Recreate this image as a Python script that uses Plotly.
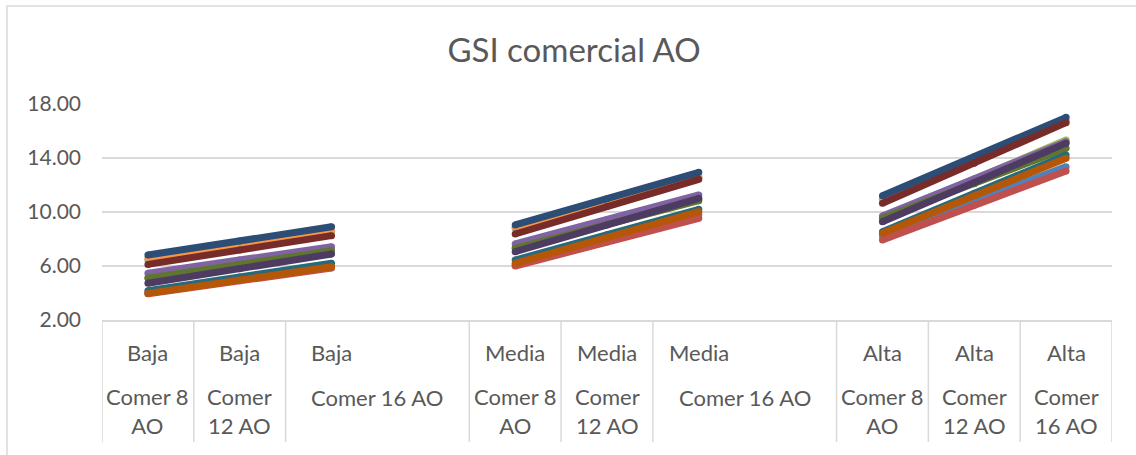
import plotly.graph_objects as go

# Category axis (11 slots; slots 3 and 7 are blank gaps)
x_pos = list(range(11))
inner_pos = [0, 1, 2, 4, 5, 6, 8, 9, 10]
inner_text = ["Baja", "Baja", "Baja", "Media", "Media", "Media", "Alta", "Alta", "Alta"]
outer_pos = [0, 1, 2.5, 4, 5, 6.5, 8, 9, 10]
outer_text = ["Comer 8<br>AO", "Comer<br>12 AO", "Comer 16 AO",
              "Comer 8<br>AO", "Comer<br>12 AO", "Comer 16 AO",
              "Comer 8<br>AO", "Comer<br>12 AO", "Comer<br>16 AO"]
separators = [-0.5, 0.5, 1.5, 3.5, 4.5, 5.5, 7.5, 8.5, 9.5, 10.5]

N = None
s01 = [4.00, 4.98, 5.95, N, 6.10, 7.95, 9.78, N, 8.22, 10.80, 13.36]
s02 = [3.95, 4.90, 5.85, N, 6.00, 7.78, 9.53, N, 7.93, 10.50, 13.04]
s03 = [5.15, 6.18, 7.20, N, 7.35, 9.12, 10.90, N, 9.55, 12.45, 15.33]
s04 = [5.46, 6.45, 7.43, N, 7.63, 9.45, 11.26, N, 9.70, 12.45, 15.21]
s05 = [6.45, 7.50, 8.55, N, 8.80, 10.68, 12.55, N, 10.95, 13.85, 16.75]
s06 = [6.57, 7.60, 8.62, N, 8.86, 10.75, 12.62, N, 11.01, 13.90, 16.80]
s07 = [6.81, 7.86, 8.91, N, 9.04, 10.99, 12.94, N, 11.21, 14.10, 17.01]
s08 = [6.12, 7.18, 8.25, N, 8.37, 10.40, 12.42, N, 10.64, 13.62, 16.62]
s09 = [5.09, 6.11, 7.13, N, 7.31, 9.08, 10.84, N, 9.53, 12.10, 14.72]
s10 = [4.72, 5.80, 6.89, N, 7.06, 9.03, 11.01, N, 9.28, 12.18, 15.10]
s11 = [4.17, 5.18, 6.20, N, 6.44, 8.32, 10.20, N, 8.54, 11.38, 14.22]
s12 = [3.97, 4.96, 5.95, N, 6.20, 8.10, 10.02, N, 8.42, 11.20, 13.98]

series = [s01, s02, s03, s04, s05, s06, s07, s08, s09, s10, s11, s12]
colors = ["#4F81BD", "#C0504D", "#9BBB59", "#8064A2", "#4BACC6", "#F79646",
          "#2C4D75", "#772C2A", "#5F7530", "#4D3B62", "#276A7C", "#B65708"]

y_ticks = [2, 6, 10, 14, 18]

FONT = "Lato"
TXT = "#595959"
GRID = "#D9D9D9"

fig = go.Figure()
for i, (vals, c) in enumerate(zip(series, colors)):
    fig.add_trace(go.Scatter(
        x=x_pos, y=vals, mode="lines+markers",
        line=dict(color=c, width=7),
        marker=dict(color=c, size=7, line=dict(width=0)),
        connectgaps=False, showlegend=False, name=f"Serie {i+1}",
    ))

# plot area: x 102..1112, y 104..320
W, H = 1136, 455
L, R, T, B = 102, 1112, 104, 320
pw, ph = R - L, B - T

def py(ypix):
    return (B - ypix) / ph

def px(xpix):
    return (xpix - L) / pw

annotations = []
for p, t in zip(inner_pos, inner_text):
    annotations.append(dict(x=p, y=py(352), xref="x", yref="paper", text=t,
                            showarrow=False, xanchor="center", yanchor="middle",
                            font=dict(family=FONT, size=22, color=TXT)))
for p, t in zip(outer_pos, outer_text):
    yc = 411 if "<br>" in t else 397
    annotations.append(dict(x=p, y=py(yc), xref="x", yref="paper", text=t,
                            showarrow=False, xanchor="center", yanchor="middle",
                            font=dict(family=FONT, size=22, color=TXT)))

shapes = []
for s in separators:
    shapes.append(dict(type="line", xref="x", yref="paper", x0=s, x1=s,
                       y0=0, y1=py(442), line=dict(color=GRID, width=1.5)))
# chart frame
shapes.append(dict(type="rect", xref="paper", yref="paper",
                   x0=px(7), x1=px(1145), y0=py(465), y1=py(6),
                   line=dict(color=GRID, width=1.5), layer="below"))

fig.update_layout(
    width=W, height=H,
    margin=dict(l=L, r=W - R, t=T, b=H - B),
    paper_bgcolor="white", plot_bgcolor="white",
    title=dict(text="GSI comercial AO", x=574 / W, xanchor="center",
               y=1 - 50 / H, yanchor="middle",
               font=dict(family=FONT, size=33, color=TXT)),
    xaxis=dict(range=[-0.5, 10.5], showticklabels=False, showgrid=False,
               zeroline=False, showline=True, linecolor=GRID, linewidth=1.5,
               fixedrange=True),
    yaxis=dict(range=[2, 18], tickvals=y_ticks, tickformat=".2f",
               showgrid=True, gridcolor=GRID, gridwidth=1.5, zeroline=False,
               showline=False, ticks="", ticklabelstandoff=20,
               tickfont=dict(family=FONT, size=21, color=TXT)),
    annotations=annotations, shapes=shapes,
)

fig.write_html("out.html")
